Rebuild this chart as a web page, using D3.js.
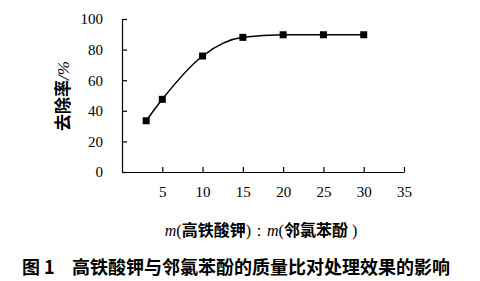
<!DOCTYPE html>
<html>
<head>
<meta charset="utf-8">
<script src="https://cdn.jsdelivr.net/npm/d3@7"></script>
<style>
  body { margin: 0; background: #fff; }
  svg { display: block; }
  .tick text { font-family: "Liberation Serif", "Times New Roman", serif !important; }
</style>
</head>
<body>
<div id="grafico"></div>
<script>
// Datos
const ratios = [3, 5, 10, 15, 20, 25, 30];
const removal = [33.5, 47.5, 75.8, 88, 89.7, 89.7, 89.7];
const xTicks = [5, 10, 15, 20, 25, 30, 35];
const yTicks = [0, 20, 40, 60, 80, 100];

const ancho = 480, alto = 281;
const margen = { top: 19, right: 76, bottom: 109, left: 122 };

const svg = d3.select("#grafico").append("svg")
  .attr("width", ancho)
  .attr("height", alto);

const x = d3.scaleLinear().domain([0, 35]).range([margen.left, ancho - margen.right]);
const y = d3.scaleLinear().domain([0, 100]).range([alto - margen.bottom, margen.top]);

const serif = "'Liberation Serif', 'Times New Roman', serif";
const cjk = "'Noto Sans CJK SC', sans-serif";

// Ejes con marcas hacia dentro
const ejeX = svg.append("g")
  .attr("transform", `translate(0,${y(0)})`)
  .call(d3.axisBottom(x).tickValues(xTicks).tickSizeInner(-5).tickSizeOuter(0).tickPadding(14));
const ejeY = svg.append("g")
  .attr("transform", `translate(${x(0)},0)`)
  .call(d3.axisLeft(y).tickValues(yTicks).tickSizeInner(-5).tickSizeOuter(0).tickPadding(19));

[ejeX, ejeY].forEach(g => {
  g.attr("font-family", serif).attr("font-size", 15);
  g.select(".domain").attr("stroke", "#000").attr("stroke-width", 1.2);
  g.selectAll(".tick line").attr("stroke", "#000").attr("stroke-width", 1.2);
  g.selectAll("text").attr("fill", "#000");
});

// Curva suavizada
const linea = d3.line()
  .x((d, i) => x(ratios[i]))
  .y(d => y(d))
  .curve(d3.curveMonotoneX);

svg.append("path")
  .datum(removal)
  .attr("fill", "none")
  .attr("stroke", "#000")
  .attr("stroke-width", 1.5)
  .attr("d", linea);

// Marcadores cuadrados
const lado = 7;
svg.selectAll(".punto")
  .data(removal)
  .enter()
  .append("rect")
  .attr("x", (d, i) => x(ratios[i]) - lado / 2)
  .attr("y", d => y(d) - lado / 2)
  .attr("width", lado)
  .attr("height", lado)
  .attr("fill", "#000");

// Título eje Y
const tituloY = svg.append("text")
  .attr("transform", `translate(69,96) rotate(-90)`)
  .attr("text-anchor", "middle")
  .attr("fill", "#000");
tituloY.append("tspan").style("font-family", cjk).style("font-weight", "bold").style("font-size", "17px").text("去除率");
tituloY.append("tspan").style("font-family", serif).style("font-style", "italic").style("font-size", "17px").text("/%");

// Título eje X
const tituloX = svg.append("text")
  .attr("x", 261)
  .attr("y", 236)
  .attr("text-anchor", "middle")
  .attr("fill", "#000");
const partesX = [
  ["m", serif, "italic", "normal"],
  ["(", serif, "normal", "normal"],
  ["高铁酸钾", cjk, "normal", "bold"],
  [")：", serif, "normal", "normal"],
  ["m", serif, "italic", "normal"],
  ["(", serif, "normal", "normal"],
  ["邻氯苯酚", cjk, "normal", "bold"],
  [" )", serif, "normal", "normal"]
];
partesX.forEach(([t, f, s, w]) => {
  tituloX.append("tspan")
    .style("font-family", f).style("font-style", s).style("font-weight", w)
    .style("font-size", "16px")
    .attr("xml:space", "preserve")
    .text(t);
});

// Pie de figura
svg.append("text")
  .attr("x", 22)
  .attr("y", 274)
  .style("font-family", cjk)
  .style("font-weight", "bold")
  .style("font-size", "18px")
  .attr("fill", "#000")
  .attr("xml:space", "preserve")
  .text("图 1");
svg.append("text")
  .attr("x", 72)
  .attr("y", 274)
  .style("font-family", cjk)
  .style("font-weight", "bold")
  .style("font-size", "18px")
  .attr("fill", "#000")
  .text("高铁酸钾与邻氯苯酚的质量比对处理效果的影响");
</script>
</body>
</html>
